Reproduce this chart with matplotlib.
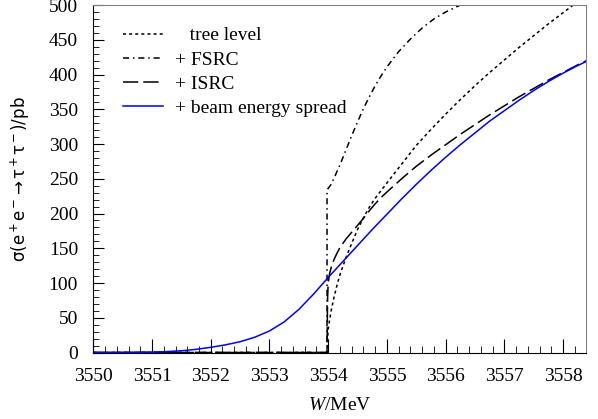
import matplotlib
matplotlib.use("Agg")
import matplotlib.pyplot as plt
from matplotlib.ticker import MultipleLocator

plt.rcParams['font.family'] = ['Liberation Serif', 'DejaVu Serif']
plt.rcParams['mathtext.fontset'] = 'custom'
plt.rcParams['mathtext.rm'] = 'Liberation Serif'
plt.rcParams['mathtext.sf'] = 'DejaVu Sans'
plt.rcParams['mathtext.it'] = 'Liberation Serif:italic'

# values (W in MeV, sigma in pb)
w_tree = [3550.0, 3553.98, 3553.99, 3554.0, 3554.02, 3554.05, 3554.1, 3554.15, 3554.2,
          3554.3, 3554.4, 3554.5, 3554.6, 3554.7, 3554.8, 3554.9, 3555.0, 3555.25,
          3555.5, 3555.75, 3556.0, 3556.25, 3556.5, 3556.75, 3557.0, 3557.25, 3557.5,
          3557.75, 3558.0, 3558.25, 3558.4]
s_tree = [0, 0, 20, 33, 45, 60, 80, 97, 112,
          136, 157, 177, 194, 209, 222, 233, 244, 271,
          298, 321, 343, 364, 384, 403, 421, 439, 456,
          473, 489, 505, 514]

w_fsrc = [3550.0, 3553.98, 3553.98, 3554.05, 3554.1, 3554.2, 3554.3, 3554.4, 3554.5,
          3554.6, 3554.7, 3554.8, 3554.9, 3555.0, 3555.2, 3555.4, 3555.6, 3555.8,
          3556.0, 3556.2, 3556.4]
s_fsrc = [0, 0, 234, 242, 251, 270, 291, 312, 332,
          351, 368, 384, 398, 411, 433, 451, 467, 480,
          490, 498, 506]

w_isrc = [3550.0, 3553.98, 3553.985, 3553.99, 3554.0, 3554.02, 3554.05, 3554.1, 3554.15,
          3554.2, 3554.3, 3554.4, 3554.5, 3554.6, 3554.7, 3554.8, 3554.9, 3555.0,
          3555.25, 3555.5, 3555.75, 3556.0, 3556.25, 3556.5, 3556.75, 3557.0, 3557.25,
          3557.5, 3557.75, 3558.0, 3558.25, 3558.4]
s_isrc = [0, 0, 50, 80, 100, 112, 122, 134, 143,
          151, 163, 173, 183, 193, 204, 214, 223, 231,
          250, 268, 284, 299, 314, 328, 342, 355, 368,
          380, 392, 403, 414, 420]

w_beam = [3550.0, 3550.5, 3551.0, 3551.25, 3551.5, 3551.75, 3552.0, 3552.25, 3552.5,
          3552.75, 3553.0, 3553.25, 3553.5, 3553.75, 3554.0, 3554.25, 3554.5, 3554.75,
          3555.0, 3555.25, 3555.5, 3555.75, 3556.0, 3556.25, 3556.5, 3556.75, 3557.0,
          3557.25, 3557.5, 3557.75, 3558.0, 3558.25, 3558.4]
s_beam = [0, 0.1, 0.6, 1.3, 2.5, 4.5, 7.5, 11, 15.5,
          22, 31, 44, 62, 84, 108, 131, 154, 177,
          199, 221, 242, 262, 281, 299, 316, 333, 348,
          363, 377, 390, 402, 413, 419]

labels = ['   tree level', '+ FSRC', '+ ISRC', '+ beam energy spread']

fig = plt.figure(figsize=(5.98, 4.19), dpi=100)
ax = fig.add_axes([0.156, 0.1587, 0.824, 0.8293])

lw = 1.1
l1, = ax.plot(w_tree, s_tree, color='black', lw=lw, dashes=(2, 2))
l2, = ax.plot(w_fsrc, s_fsrc, color='black', lw=lw, dashes=(4, 2.5, 1, 2.5))
l3, = ax.plot(w_isrc, s_isrc, color='black', lw=lw, dashes=(10, 3.3))
l4, = ax.plot(w_beam, s_beam, color='#0000ff', lw=lw)

ax.set_xlim(3550, 3558.39)
ax.set_ylim(0, 500)

ax.xaxis.set_major_locator(MultipleLocator(1))
ax.xaxis.set_minor_locator(MultipleLocator(0.2))
ax.yaxis.set_major_locator(MultipleLocator(50))
ax.yaxis.set_minor_locator(MultipleLocator(10))
ax.tick_params(which='both', direction='in', top=False, right=False, labelsize=14)
ax.tick_params(axis='x', which='major', length=10, pad=11)
ax.tick_params(axis='x', which='minor', length=5)
ax.tick_params(axis='y', which='major', length=8, pad=11)
ax.tick_params(axis='y', which='minor', length=4)

for s in ['top', 'right']:
    ax.spines[s].set_color('0.5')

ax.set_xlabel(r'$\mathit{W}$/MeV', fontsize=14, labelpad=9)
ax.set_ylabel(r'$\mathsf{\sigma(e^+e^-{\rightarrow}\tau^+\tau^-)/pb}$', fontsize=12, labelpad=12)

leg = ax.legend([l1, l2, l3, l4], labels, loc='upper left', bbox_to_anchor=(0.045, 0.96),
                frameon=False, fontsize=14, handlelength=2.06, handletextpad=0.6,
                labelspacing=0.34, borderaxespad=0)

fig.savefig('out.png', dpi=100)
